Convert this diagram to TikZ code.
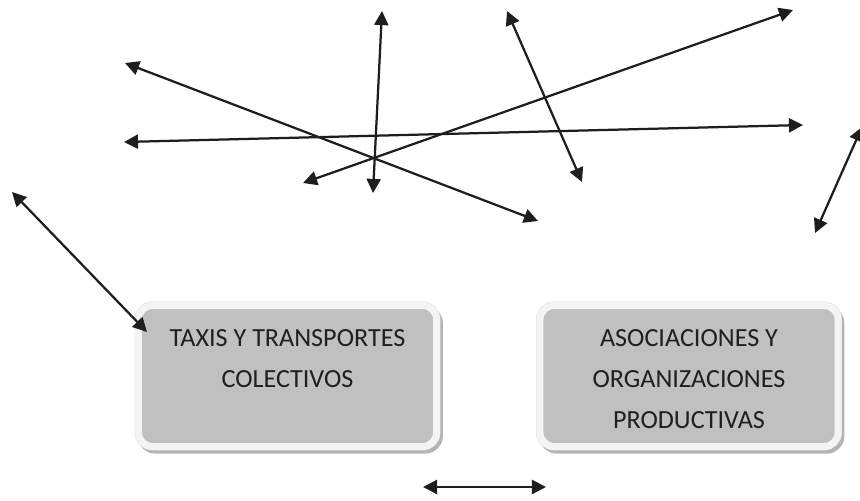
\documentclass[tikz,border=0pt]{standalone}
\usepackage{fontspec}
\setmainfont{Carlito}
\usepackage{tikz}
\usetikzlibrary{positioning, arrows.meta}
\usepackage{xcolor}

\definecolor{cajagris}{HTML}{C0C0C0}
\definecolor{marco}{HTML}{F4F4F4}
\definecolor{borde}{HTML}{DADADA}
\definecolor{sombra}{HTML}{B4B4B4}
\definecolor{tinta}{HTML}{1E1E1E}
\definecolor{letra}{HTML}{1F1F1F}

\begin{document}
\begin{tikzpicture}[x=0.025cm, y=-0.025cm,
  caja/.style={rectangle, rounded corners=0.35cm, minimum width=7.45cm, minimum height=3.525cm,
    fill=cajagris, draw=marco, line width=5pt,
    preaction={draw=sombra, fill=sombra, line width=5pt, transform canvas={shift={(0.07cm,-0.09cm)}}},
    preaction={draw=borde, line width=5.6pt}},
  texto/.style={align=center, inner sep=0pt, text=letra, font=\fontsize{18.6}{29.2}\selectfont},
  flecha/.style={{Triangle[length=10pt, width=10pt]}-{Triangle[length=10pt, width=10pt]}, line width=1.6pt, draw=tinta}]

\useasboundingbox (0,0) rectangle (860,500);

% Boxes
\node[caja] (taxis) at (287.5,376) {};
\node[texto, below=0.69cm of taxis.north] (taxistxt) {TAXIS Y TRANSPORTES\\COLECTIVOS};

\node[caja] (asociaciones) at (689,376) {};
\node[texto, below=0.69cm of asociaciones.north] (asociacionestxt) {ASOCIACIONES Y\\ORGANIZACIONES\\PRODUCTIVAS};

% Free ends of the arrows
\coordinate (f1a) at (125,63);  \coordinate (f1b) at (538,221);
\coordinate (f2a) at (382,11);  \coordinate (f2b) at (373,193);
\coordinate (f3a) at (507,11);  \coordinate (f3b) at (582,182);
\coordinate (f4a) at (793,10);  \coordinate (f4b) at (303,183);
\coordinate (f5a) at (124,142); \coordinate (f5b) at (803,125);
\coordinate (f6a) at (862,127); \coordinate (f6b) at (815,233);
\coordinate (f7a) at (12,192);  \coordinate (f7b) at (147,332);
\coordinate (f8a) at (423,487); \coordinate (f8b) at (546,487);

% Arrows
\draw[flecha] (f1a) -- (f1b);
\draw[flecha] (f2a) -- (f2b);
\draw[flecha] (f3a) -- (f3b);
\draw[flecha] (f4a) -- (f4b);
\draw[flecha] (f5a) -- (f5b);
\draw[flecha] (f6a) -- (f6b);
\draw[flecha] (f7a) -- (f7b);
\draw[flecha] (f8a) -- (f8b);

\end{tikzpicture}
\end{document}
